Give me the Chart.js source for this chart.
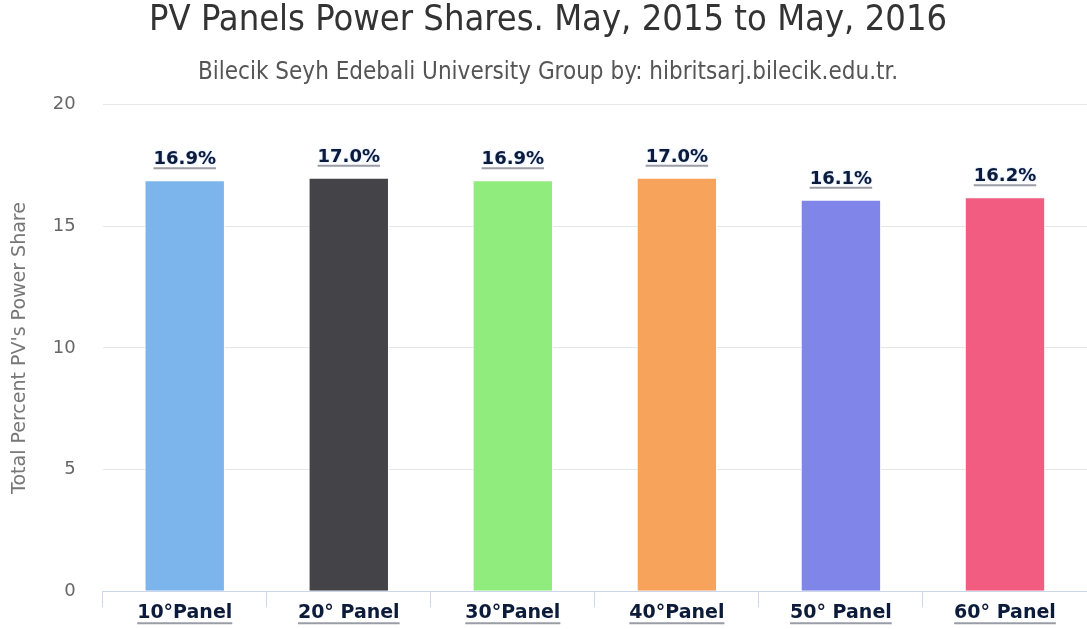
<!DOCTYPE html>
<html>
<head>
<meta charset="utf-8">
<title>PV Panels Power Shares</title>
<script src="https://cdn.jsdelivr.net/npm/chart.js@4.4.1/dist/chart.umd.min.js"></script>
<style>
  html, body { margin: 0; padding: 0; background: #fff; }
  #wrap { width: 1087px; height: 629px; position: relative; }
</style>
</head>
<body>
<div id="wrap"><canvas id="chart"></canvas></div>
<script>
// panel tilt angles and their share of total power
const categories = ['10°Panel', '20° Panel', '30°Panel', '40°Panel', '50° Panel', '60° Panel'];
const shares = [16.9, 17.0, 16.9, 17.0, 16.1, 16.2];
const barColors = ['#7cb5ec', '#434348', '#90ed7d', '#f7a35c', '#8085e9', '#f15c80'];
const yTicks = [0, 5, 10, 15, 20];

const LABEL_FONT = 'bold 18px "DejaVu Sans", sans-serif';
const CAT_FONT = 'bold 19px "DejaVu Sans", sans-serif';
const LABEL_INK = '#0d1b3a';

// value labels above each bar, underlined
const valueLabels = {
  id: 'valueLabels',
  afterDatasetsDraw(chart) {
    const { ctx } = chart;
    const meta = chart.getDatasetMeta(0);
    ctx.save();
    ctx.font = LABEL_FONT;
    ctx.textAlign = 'center';
    ctx.textBaseline = 'alphabetic';
    meta.data.forEach((bar, i) => {
      const txt = shares[i].toFixed(1) + '%';
      const y = bar.y - 16;
      const w = ctx.measureText(txt).width;
      ctx.strokeStyle = '#9a9ca6';
      ctx.lineWidth = 2;
      ctx.beginPath();
      ctx.moveTo(bar.x - w / 2, y + 4);
      ctx.lineTo(bar.x + w / 2, y + 4);
      ctx.stroke();
      ctx.shadowColor = 'rgba(150,190,255,0.7)';
      ctx.shadowBlur = 2;
      ctx.fillStyle = LABEL_INK;
      ctx.fillText(txt, bar.x, y);
      ctx.shadowBlur = 0;
    });
    ctx.restore();
  }
};

// underline the category names under the x axis
const categoryUnderline = {
  id: 'categoryUnderline',
  afterDraw(chart) {
    const { ctx } = chart;
    const x = chart.scales.x;
    ctx.save();
    ctx.font = CAT_FONT;
    ctx.strokeStyle = '#9a9ca6';
    ctx.lineWidth = 2;
    categories.forEach((c, i) => {
      const cx = x.getPixelForValue(i);
      const w = ctx.measureText(c).width;
      const y = x.top + 32;
      ctx.beginPath();
      ctx.moveTo(cx - w / 2, y);
      ctx.lineTo(cx + w / 2, y);
      ctx.stroke();
    });
    ctx.restore();
  }
};

new Chart(document.getElementById('chart'), {
  type: 'bar',
  data: {
    labels: categories,
    datasets: [{
      data: shares,
      backgroundColor: barColors,
      borderColor: '#ffffff',
      borderWidth: 1,
      categoryPercentage: 1,
      barPercentage: 0.49
    }]
  },
  options: {
    responsive: true,
    maintainAspectRatio: false,
    animation: false,
    layout: { padding: { left: 9, right: 0, top: 3, bottom: 2 } },
    plugins: {
      legend: { display: false },
      tooltip: { enabled: false },
      title: {
        display: true,
        text: 'PV Panels Power Shares. May, 2015 to May, 2016',
        color: '#333333',
        font: { family: '"DejaVu Sans Condensed", "DejaVu Sans", sans-serif', size: 36, weight: 'normal', lineHeight: 1 },
        padding: { top: 0, bottom: 19 }
      },
      subtitle: {
        display: true,
        text: 'Bilecik Seyh Edebali University Group by: hibritsarj.bilecik.edu.tr.',
        color: '#555555',
        font: { family: '"DejaVu Sans Condensed", "DejaVu Sans", sans-serif', size: 24 },
        padding: { top: 0, bottom: 18 }
      }
    },
    scales: {
      x: {
        grid: {
          offset: true,
          drawOnChartArea: false,
          drawTicks: true,
          tickLength: 16,
          color: '#ccd6eb',
          lineWidth: 1
        },
        border: { color: '#ccd6eb', width: 1 },
        ticks: {
          color: LABEL_INK,
          font: { family: '"DejaVu Sans", sans-serif', size: 19, weight: 'bold' },
          padding: -6
        }
      },
      y: {
        min: 0,
        max: 20,
        afterBuildTicks(scale) { scale.ticks = yTicks.map(v => ({ value: v })); },
        grid: { color: '#e6e6e6', drawTicks: false },
        border: { display: false },
        ticks: {
          color: '#666666',
          padding: 27,
          font: { family: '"DejaVu Sans", sans-serif', size: 18 }
        },
        title: {
          display: true,
          text: "Total Percent PV's Power Share",
          color: '#777777',
          font: { family: '"DejaVu Sans", sans-serif', size: 19 },
          padding: { top: 0, bottom: -6 }
        }
      }
    }
  },
  plugins: [valueLabels, categoryUnderline]
});
</script>
</body>
</html>
